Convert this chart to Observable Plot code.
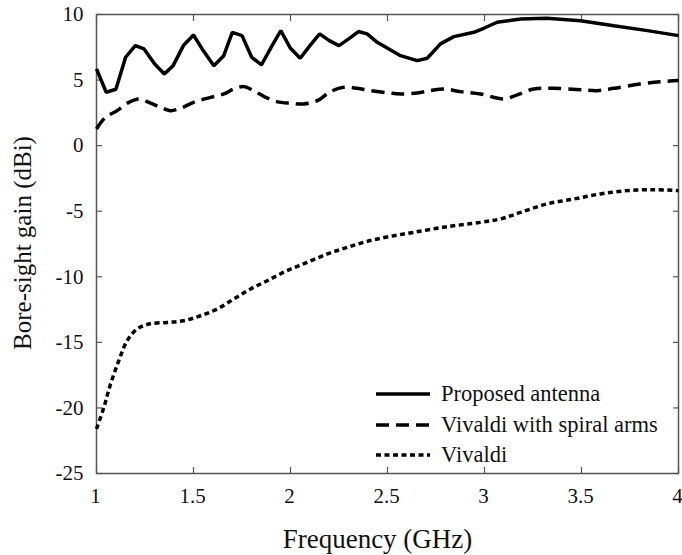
<!DOCTYPE html>
<html>
<head>
<meta charset="utf-8">
<script src="https://cdn.jsdelivr.net/npm/d3@7"></script>
<script src="https://cdn.jsdelivr.net/npm/@observablehq/plot@0.6"></script>
<style>
  html, body { margin: 0; padding: 0; background: #fff; }
  #wrap { position: relative; width: 682px; height: 555px; font-family: "Liberation Serif", "Times New Roman", serif; }
  #legend { position: absolute; left: 376px; top: 379px; font-size: 22.5px; color: #111; line-height: 30.5px; }
  #legend .row { display: flex; align-items: center; white-space: nowrap; }
  #legend svg { width: 54px; height: 10px; margin-right: 11px; }
</style>
</head>
<body>
<div id="wrap">
  <div id="chart"></div>
  <div id="legend"></div>
</div>
<script>
// ---- data ----
const freqProposed = [1.0,1.05,1.10,1.15,1.20,1.245,1.30,1.35,1.395,1.45,1.50,1.55,1.605,1.656,1.70,1.75,1.80,1.85,1.90,1.95,2.0,2.05,2.10,2.15,2.20,2.25,2.30,2.35,2.395,2.447,2.507,2.567,2.653,2.705,2.773,2.842,2.945,2.996,3.065,3.186,3.32,3.495,3.667,3.84,4.0];
const gainProposed = [5.85,4.07,4.3,6.74,7.63,7.37,6.23,5.47,6.1,7.68,8.44,7.25,6.1,6.86,8.64,8.39,6.74,6.15,7.5,8.77,7.42,6.66,7.63,8.52,8.01,7.63,8.14,8.7,8.52,7.88,7.37,6.86,6.48,6.66,7.76,8.31,8.64,8.95,9.41,9.66,9.71,9.53,9.15,8.77,8.39];

const freqSpiral = [1.0,1.046,1.107,1.167,1.218,1.27,1.33,1.38,1.433,1.50,1.588,1.656,1.708,1.76,1.81,1.862,1.93,2.0,2.069,2.138,2.206,2.275,2.344,2.412,2.507,2.567,2.653,2.72,2.79,2.876,2.979,3.1,3.169,3.254,3.357,3.495,3.58,3.667,3.80,3.907,4.0];
const gainSpiral = [1.27,2.16,2.67,3.3,3.56,3.3,2.92,2.67,2.85,3.3,3.68,3.94,4.32,4.5,4.19,3.76,3.36,3.23,3.18,3.43,4.12,4.45,4.37,4.19,4.02,3.94,4.02,4.19,4.32,4.12,3.94,3.56,3.87,4.32,4.37,4.27,4.19,4.37,4.7,4.88,4.96];

const freqVivaldi = [1.0,1.038,1.072,1.115,1.158,1.21,1.27,1.364,1.45,1.536,1.622,1.708,1.794,1.88,1.983,2.086,2.19,2.292,2.395,2.507,2.636,2.808,2.979,3.082,3.186,3.32,3.46,3.598,3.735,3.873,4.0];
const gainVivaldi = [-21.6,-19.96,-18.2,-16.4,-14.87,-13.98,-13.6,-13.48,-13.35,-12.97,-12.46,-11.69,-10.93,-10.3,-9.53,-8.9,-8.26,-7.76,-7.3,-6.94,-6.61,-6.18,-5.85,-5.59,-5.09,-4.45,-4.07,-3.68,-3.43,-3.36,-3.43];

const seriesNames = ["Proposed antenna", "Vivaldi with spiral arms", "Vivaldi"];
const xTicks = [1, 1.5, 2, 2.5, 3, 3.5, 4];
const yTicks = [10, 5, 0, -5, -10, -15, -20, -25];
const xTitle = "Frequency (GHz)";
const yTitle = "Bore-sight gain (dBi)";

// ---- build tables ----
const proposed = freqProposed.map((f, i) => ({f, g: gainProposed[i]}));
const spiral = freqSpiral.map((f, i) => ({f, g: gainSpiral[i]}));
const vivaldi = freqVivaldi.map((f, i) => ({f, g: gainVivaldi[i]}));

const styles = [
  {dash: null, width: 3.5},
  {dash: "13,7", width: 3.5},
  {dash: "5,3.5", width: 3.5}
];

const font = "'Liberation Serif', 'Times New Roman', serif";
const axisColor = "#555";

const chart = Plot.plot({
  width: 682,
  height: 555,
  marginTop: 14,
  marginRight: 4,
  marginBottom: 82,
  marginLeft: 96,
  style: {fontFamily: font, color: "#111", background: "#fff", overflow: "visible"},
  x: {domain: [1, 4]},
  y: {domain: [-25, 10]},
  marks: [
    // inward ticks on all four sides
    Plot.axisX({anchor: "bottom", ticks: xTicks, tickSize: -6, tickFormat: () => "", label: null, stroke: axisColor, strokeWidth: 1.2}),
    Plot.axisX({anchor: "top", ticks: xTicks, tickSize: -6, tickFormat: () => "", label: null, stroke: axisColor, strokeWidth: 1.2}),
    Plot.axisY({anchor: "left", ticks: yTicks, tickSize: -6, tickFormat: () => "", label: null, stroke: axisColor, strokeWidth: 1.2}),
    Plot.axisY({anchor: "right", ticks: yTicks, tickSize: -6, tickFormat: () => "", label: null, stroke: axisColor, strokeWidth: 1.2}),
    // tick labels
    Plot.axisX({anchor: "bottom", ticks: xTicks, tickSize: 0, tickPadding: 15, dx: -1, tickFormat: d => String(d), label: null, fontSize: 21, fontFamily: font, fill: "#111"}),
    Plot.axisY({anchor: "left", ticks: yTicks, tickSize: 0, tickPadding: 13, tickFormat: d => String(d), label: null, fontSize: 21, fontFamily: font, fill: "#111"}),
    Plot.frame({stroke: axisColor, strokeWidth: 1.5}),
    // series
    Plot.line(vivaldi, {x: "f", y: "g", stroke: "#000", strokeWidth: styles[2].width, strokeDasharray: styles[2].dash, strokeLinecap: "butt", curve: "catmull-rom"}),
    Plot.line(spiral, {x: "f", y: "g", stroke: "#000", strokeWidth: styles[1].width, strokeDasharray: styles[1].dash, strokeLinecap: "butt", curve: "catmull-rom"}),
    Plot.line(proposed, {x: "f", y: "g", stroke: "#000", strokeWidth: styles[0].width, strokeLinejoin: "miter", strokeLinecap: "butt", curve: "linear"}),
    // axis titles
    Plot.text([xTitle], {frameAnchor: "bottom", dx: -10, dy: 66, text: d => d, fontSize: 27, fontFamily: font, fill: "#111", textAnchor: "middle", lineAnchor: "middle"}),
    Plot.text([yTitle], {frameAnchor: "left", dx: -74, dy: -1, rotate: -90, text: d => d, fontSize: 25, fontFamily: font, fill: "#111", textAnchor: "middle", lineAnchor: "middle"})
  ]
});
document.getElementById("chart").appendChild(chart);

// legend (HTML overlay)
const legend = document.getElementById("legend");
seriesNames.forEach((name, i) => {
  const row = document.createElement("div");
  row.className = "row";
  const s = styles[i];
  row.innerHTML = `<svg viewBox="0 0 54 10"><line x1="0" y1="5" x2="54" y2="5" stroke="#000" stroke-width="${s.width}" ${s.dash ? `stroke-dasharray="${s.dash}"` : ""}/></svg><span>${name}</span>`;
  legend.appendChild(row);
});
</script>
</body>
</html>
